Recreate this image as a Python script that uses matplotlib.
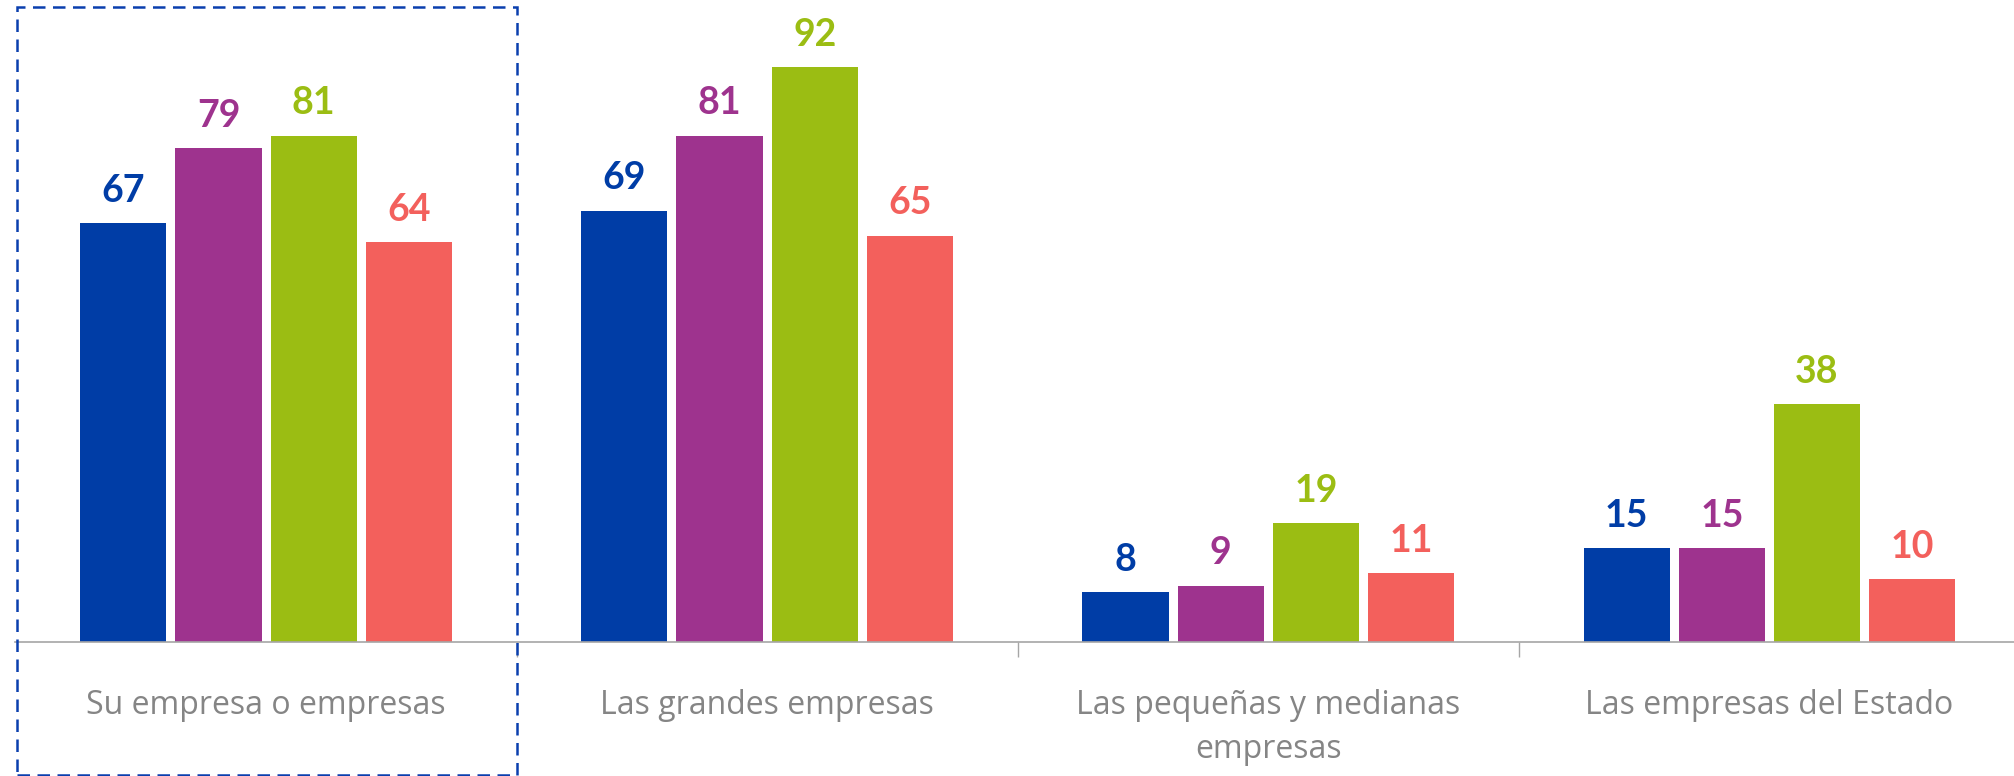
import numpy as np
import matplotlib.pyplot as plt
import matplotlib.patches as mpatches

categories = ['Su empresa o empresas', 'Las grandes empresas',
              'Las pequeñas y medianas\nempresas', 'Las empresas del Estado']
serie_azul = [67, 69, 8, 15]
serie_morado = [79, 81, 9, 15]
serie_verde = [81, 92, 19, 38]
serie_rojo = [64, 65, 11, 10]

colores = ['#003DA6', '#9E338E', '#9BBD13', '#F3605C']
series = [serie_azul, serie_morado, serie_verde, serie_rojo]

fig = plt.figure(figsize=(20.15, 7.76), dpi=100)
ax = fig.add_axes([15.5 / 2015, 134 / 776, 1 - 15.5 / 2015, 642 / 776])

x = np.arange(len(categories))
ancho = 0.172
paso = 0.19
for i, (vals, col) in enumerate(zip(series, colores)):
    pos = x + (i - 1.5) * paso
    bars = ax.bar(pos, vals, width=ancho, color=col)
    for b, v in zip(bars, vals):
        ax.annotate(str(v), (b.get_x() + b.get_width() / 2, v),
                    xytext=(0, 11), textcoords='offset points',
                    ha='center', va='bottom', fontsize=27,
                    fontweight='bold', color=col, family='Lato')

ax.set_xlim(-0.5, 3.49)
ax.set_ylim(0, 102.7)
ax.set_yticks([])
for s in ['top', 'right', 'left']:
    ax.spines[s].set_visible(False)
ax.spines['bottom'].set_color('#A6A6A6')
ax.spines['bottom'].set_linewidth(1.2)

ax.set_xticks(x)
ax.set_xticklabels(categories, fontsize=23, color='#858585', family='Open Sans',
                   linespacing=1.45)
ax.tick_params(axis='x', which='major', length=0, pad=34)
ax.set_xticks([0.5, 1.5, 2.5], minor=True)
ax.tick_params(axis='x', which='minor', length=11, color='#A6A6A6', width=1)

# recuadro punteado alrededor del primer grupo
caja = mpatches.Rectangle((17 / 2015, 1.5 / 776), 500 / 2015, 768 / 776,
                          transform=fig.transFigure, fill=False,
                          edgecolor='#0A3FAE', linewidth=1.8,
                          linestyle=(0, (5, 3)))
fig.patches.append(caja)

fig.savefig('out.png', dpi=100)
